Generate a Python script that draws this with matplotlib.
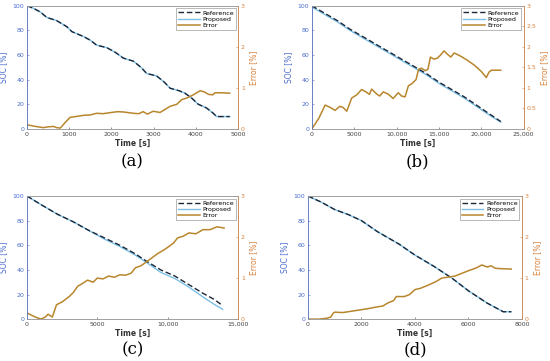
import matplotlib.pyplot as plt
import numpy as np

# ── data ──
# (a)
ta_soc = [0, 150, 315, 470, 700, 945, 1063, 1340, 1500, 1650, 1890, 2100, 2280, 2520, 2700, 2835, 3070, 3250, 3390, 3600, 3740, 3900, 4055, 4250, 4400, 4490, 4650, 4800]
a_ref = [100, 98, 95, 90.5, 88, 83, 79, 75, 72, 68, 66, 62, 57.5, 55, 50, 45, 43, 38, 33, 31, 29, 25, 20, 17, 13, 10, 10, 10]
a_prop = [100, 98, 95, 90.5, 88, 83, 79, 75, 72, 68, 66, 62, 57.5, 55, 50, 45, 43, 38, 33, 31, 29, 25, 20, 17, 13, 10, 10, 10]
ta_err = [0, 200, 390, 500, 630, 700, 790, 900, 1020, 1150, 1340, 1500, 1650, 1800, 2000, 2150, 2300, 2520, 2650, 2750, 2850, 2990, 3150, 3390, 3550, 3660, 3800, 3940, 4100, 4200, 4300, 4400, 4450, 4600, 4800]
a_err = [0.1, 0.06, 0.03, 0.05, 0.06, 0.03, 0.02, 0.15, 0.28, 0.3, 0.33, 0.34, 0.38, 0.37, 0.4, 0.42, 0.41, 0.38, 0.37, 0.42, 0.36, 0.43, 0.4, 0.55, 0.6, 0.71, 0.76, 0.83, 0.93, 0.9, 0.84, 0.83, 0.88, 0.88, 0.87]

# (b)
tb_soc = [0, 1500, 3000, 4500, 6000, 7500, 9000, 10500, 12000, 13500, 15000, 16500, 18000, 19500, 21000, 22300]
b_ref = [100, 94, 88, 81, 75, 69, 63, 57, 51, 45, 38, 32, 26, 19, 12, 6]
b_prop = [99, 93, 87, 80, 74, 68, 62, 56, 50, 44, 37, 31, 25, 18, 11, 5.5]
tb_err = [0, 800, 1570, 2200, 2745, 3300, 3700, 4120, 4700, 5300, 5880, 6400, 6800, 7060, 7600, 8000, 8430, 9000, 9600, 10200, 10600, 11000, 11400, 11800, 12300, 12600, 12900, 13400, 13700, 14000, 14400, 14800, 15200, 15600, 16000, 16400, 16800, 17500, 18300, 19200, 20000, 20600, 20900, 21200, 22300]
b_err = [0, 0.25, 0.58, 0.52, 0.45, 0.55, 0.52, 0.43, 0.75, 0.83, 0.96, 0.9, 0.84, 0.97, 0.86, 0.8, 0.9, 0.85, 0.74, 0.88, 0.8, 0.78, 1.05, 1.1, 1.2, 1.45, 1.48, 1.42, 1.45, 1.75, 1.7, 1.72, 1.8, 1.9, 1.82, 1.75, 1.85, 1.78, 1.68, 1.55, 1.4, 1.25, 1.38, 1.43, 1.43]

# (c)
tc_soc = [0, 1000, 2200, 3300, 4400, 5500, 6600, 7700, 8500, 9500, 10500, 11500, 12500, 13300, 13900]
c_ref = [100, 93, 85, 79, 72, 66, 60, 53, 47, 40, 35, 28, 21, 16, 11]
c_prop = [100, 93, 85, 79, 72, 65, 59, 52, 46, 38, 33, 26, 18, 12, 8]
tc_err = [0, 300, 600, 1000, 1300, 1500, 1800, 2100, 2500, 3000, 3300, 3600, 4000, 4300, 4700, 5000, 5400, 5800, 6200, 6600, 7000, 7400, 7700, 8100, 8500, 8900, 9300, 9700, 10000, 10400, 10700, 11100, 11500, 12000, 12500, 13000, 13500, 14000]
c_err = [0.15, 0.1, 0.05, 0.0, 0.05, 0.12, 0.05, 0.35, 0.42, 0.55, 0.65, 0.8, 0.88, 0.95, 0.9, 1.0, 0.98, 1.05, 1.02, 1.08, 1.07, 1.12, 1.25, 1.3, 1.4, 1.5, 1.6, 1.68, 1.75, 1.85, 1.98, 2.02, 2.1, 2.08, 2.18, 2.18, 2.25, 2.22]

# (d)
td_soc = [0, 500, 1000, 1500, 2000, 2600, 3000, 3400, 4000, 4700, 5400, 6000, 6700, 7300, 7600]
d_ref = [100, 95, 89, 85, 80, 71, 66, 61, 52, 43, 33, 23, 13, 6, 6]
d_prop = [100, 95, 89, 85, 80, 71, 66, 61, 52, 43, 33, 23, 13, 6, 6]
td_err = [0, 400, 700, 850, 950, 1000, 1300, 1700, 2200, 2600, 2800, 3000, 3200, 3300, 3600, 3800, 4000, 4200, 4500, 4800, 5000, 5500, 6000, 6300, 6500, 6700, 6850, 7000, 7200, 7600]
d_err = [0, 0, 0.02, 0.05, 0.15, 0.17, 0.16, 0.2, 0.25, 0.3, 0.32, 0.4, 0.45, 0.55, 0.55, 0.6, 0.72, 0.75, 0.83, 0.92, 1.0, 1.05, 1.18, 1.25, 1.32, 1.27, 1.3, 1.24, 1.23, 1.22]

panels = [
    ("(a)", ta_soc, a_ref, a_prop, ta_err, a_err, 5000, 1000, False),
    ("(b)", tb_soc, b_ref, b_prop, tb_err, b_err, 25000, 5000, True),
    ("(c)", tc_soc, c_ref, c_prop, tc_err, c_err, 15000, 5000, False),
    ("(d)", td_soc, d_ref, d_prop, td_err, d_err, 8000, 2000, False),
]
boxes = [
    [0.049, 0.643, 0.384, 0.341],
    [0.567, 0.643, 0.385, 0.341],
    [0.049, 0.116, 0.384, 0.341],
    [0.560, 0.116, 0.389, 0.341],
]
label_y = [0.551, 0.551, 0.03, 0.03]

blue = "#4a6ccc"
orange = "#d9823b"
c_prop_col = "#7cc0e6"
c_err_col = "#b8862c"

fig = plt.figure(figsize=(5.5, 3.61), dpi=100)

def fmt(v):
    v = int(v)
    return f"{v:,}" if v >= 10000 else str(v)

for (lab, ts, ref, prop, te, err, xmax, xstep, half), box, ly in zip(panels, boxes, label_y):
    ax = fig.add_axes(box)
    ax2 = ax.twinx()
    ax.plot(ts, prop, color=c_prop_col, lw=1.0, label="Proposed")
    ax.plot(ts, ref, color="#1c2838", lw=1.0, ls=(0, (4, 2)), label="Reference")
    ax2.plot(te, err, color=c_err_col, lw=1.1, label="Error")
    ax.set_xlim(0, xmax)
    ax.set_ylim(0, 100)
    ax2.set_ylim(0, 3)
    xt = np.arange(0, xmax + 1, xstep)
    ax.set_xticks(xt)
    ax.set_xticklabels([fmt(v) for v in xt])
    ax.set_yticks(range(0, 101, 20))
    if half:
        ax2.set_yticks([0, 0.5, 1, 1.5, 2, 2.5, 3])
        ax2.set_yticklabels(["0", "0.5", "1", "1.5", "2", "2.5", "3"])
    else:
        ax2.set_yticks([0, 1, 2, 3])
    ax.tick_params(labelsize=4.5, length=1.5, width=0.4, pad=2, colors="#444444", direction="in")
    ax.tick_params(axis="y", colors=blue)
    ax2.tick_params(labelsize=4.5, length=1.5, width=0.4, pad=2, colors=orange, direction="in")
    ax.set_xlabel("Time [s]", fontsize=5.5, fontweight="bold", labelpad=1.5, color="#333333")
    ax.set_ylabel("SOC [%]", fontsize=5.5, labelpad=3, color=blue)
    ax2.set_ylabel("Error [%]", fontsize=5.5, labelpad=3, color=orange)
    for a in (ax, ax2):
        for s in a.spines.values():
            s.set_linewidth(0.5)
            s.set_color("#999999")
    ax2.spines["left"].set_color(blue)
    ax2.spines["right"].set_color(orange)
    h1, l1 = ax.get_legend_handles_labels()
    h2, l2 = ax2.get_legend_handles_labels()
    leg = ax2.legend([h1[1], h1[0], h2[0]], [l1[1], l1[0], l2[0]], loc="upper right",
                     fontsize=4.5, frameon=True, fancybox=False, edgecolor="#666666",
                     borderpad=0.3, labelspacing=0.15, handlelength=3.5, handletextpad=0.4,
                     borderaxespad=0.4)
    leg.get_frame().set_linewidth(0.4)
    x0, y0, w, h = box
    fig.text(x0 + w / 2, ly, lab, ha="center", va="center",
             fontsize=12, family="DejaVu Serif")

fig.savefig("out.png", dpi=100)
